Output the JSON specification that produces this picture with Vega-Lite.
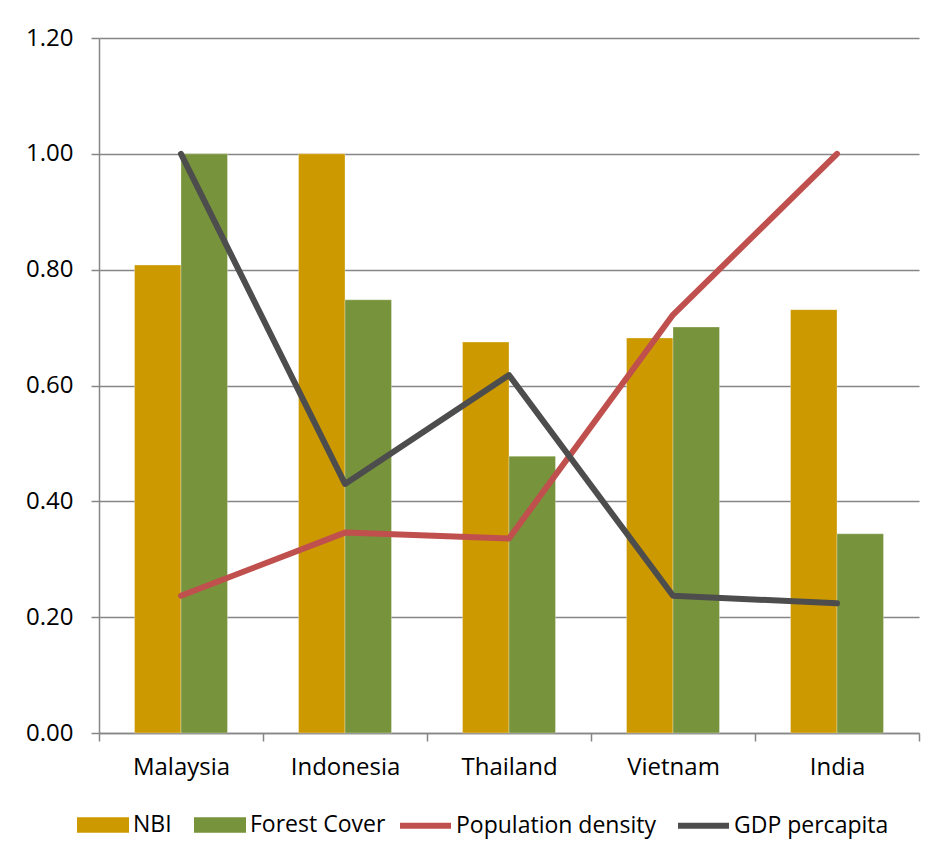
{
  "$schema": "https://vega.github.io/schema/vega-lite/v6.json",
  "width": 820,
  "height": 695,
  "autosize": {"type": "none"},
  "padding": {"left": 99, "top": 38, "right": 19, "bottom": 126},
  "background": "white",
  "config": {
    "view": {"stroke": null},
    "font": "Open Sans",
    "axis": {
      "labelFont": "Open Sans",
      "labelFontSize": 24,
      "labelColor": "black",
      "domainColor": "#868686",
      "domainWidth": 1.5,
      "tickColor": "#868686",
      "tickWidth": 1.5,
      "tickSize": 8,
      "gridColor": "#868686",
      "gridWidth": 1.5,
      "title": null
    },
    "legend": {
      "labelFont": "Open Sans",
      "labelFontSize": 23,
      "labelColor": "black",
      "labelLimit": 0,
      "title": null,
      "direction": "horizontal",
      "labelOffset": 4
    }
  },
  "data": {
    "values": [
      {"country": "Malaysia", "series": "NBI", "value": 0.808},
      {"country": "Malaysia", "series": "Forest Cover", "value": 1.0},
      {"country": "Malaysia", "series": "Population density", "value": 0.237},
      {"country": "Malaysia", "series": "GDP percapita", "value": 1.0},
      {"country": "Indonesia", "series": "NBI", "value": 1.0},
      {"country": "Indonesia", "series": "Forest Cover", "value": 0.748},
      {"country": "Indonesia", "series": "Population density", "value": 0.346},
      {"country": "Indonesia", "series": "GDP percapita", "value": 0.43},
      {"country": "Thailand", "series": "NBI", "value": 0.675},
      {"country": "Thailand", "series": "Forest Cover", "value": 0.478},
      {"country": "Thailand", "series": "Population density", "value": 0.336},
      {"country": "Thailand", "series": "GDP percapita", "value": 0.618},
      {"country": "Vietnam", "series": "NBI", "value": 0.682},
      {"country": "Vietnam", "series": "Forest Cover", "value": 0.701},
      {"country": "Vietnam", "series": "Population density", "value": 0.722},
      {"country": "Vietnam", "series": "GDP percapita", "value": 0.237},
      {"country": "India", "series": "NBI", "value": 0.731},
      {"country": "India", "series": "Forest Cover", "value": 0.344},
      {"country": "India", "series": "Population density", "value": 1.0},
      {"country": "India", "series": "GDP percapita", "value": 0.224}
    ]
  },
  "encoding": {
    "x": {
      "field": "country",
      "type": "nominal",
      "sort": ["Malaysia", "Indonesia", "Thailand", "Vietnam", "India"],
      "scale": {"paddingInner": 0, "paddingOuter": 0},
      "axis": {"labelAngle": 0, "tickBand": "extent", "labelPadding": 14, "domain": true}
    },
    "y": {
      "field": "value",
      "type": "quantitative",
      "scale": {"domain": [0, 1.2]},
      "axis": {"format": ".2f", "values": [0, 0.2, 0.4, 0.6, 0.8, 1.0, 1.2], "labelPadding": 18, "grid": true, "domain": true}
    }
  },
  "layer": [
    {
      "transform": [{"filter": "datum.series === 'NBI' || datum.series === 'Forest Cover'"}],
      "mark": {"type": "bar", "stroke": "white", "strokeWidth": 0.5, "strokeOpacity": 0.6},
      "encoding": {
        "xOffset": {"field": "series", "type": "nominal", "sort": ["NBI", "Forest Cover"], "scale": {"paddingInner": 0, "paddingOuter": 0.764}},
        "color": {
          "field": "series",
          "type": "nominal",
          "scale": {"domain": ["NBI", "Forest Cover"], "range": ["#CC9900", "#77933C"]},
          "legend": {"orient": "none", "legendX": -22, "legendY": 761, "columnPadding": 22, "symbolType": "M-1,-0.3H1V0.3H-1Z", "symbolSize": 2704, "symbolStrokeWidth": 0, "symbolOpacity": 1}
        }
      }
    },
    {
      "transform": [{"filter": "datum.series === 'Population density' || datum.series === 'GDP percapita'"}],
      "mark": {"type": "line", "strokeWidth": 6, "strokeCap": "round", "strokeJoin": "round"},
      "encoding": {
        "stroke": {
          "field": "series",
          "type": "nominal",
          "sort": ["Population density", "GDP percapita"],
          "scale": {"domain": ["Population density", "GDP percapita"], "range": ["#C0504D", "#4D4D4D"]},
          "legend": {"orient": "none", "legendX": 298, "legendY": 759, "columnPadding": 10, "labelOffset": 2, "symbolType": "stroke", "symbolSize": 2601, "symbolStrokeWidth": 6, "symbolStrokeCap": "round"}
        }
      }
    }
  ]
}
